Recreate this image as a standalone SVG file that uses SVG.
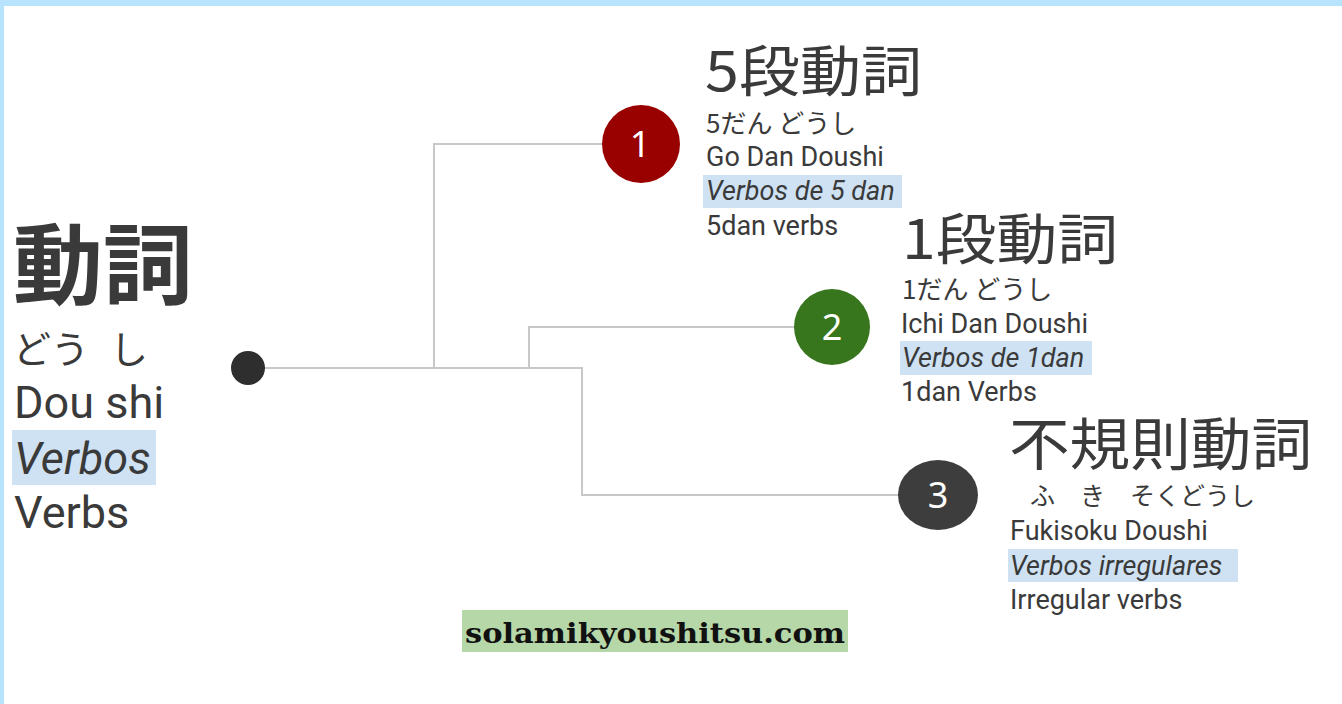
<svg xmlns="http://www.w3.org/2000/svg" width="1342" height="704" viewBox="0 0 1342 704">
<style>
.jp{font-family:"Noto Sans CJK JP","Noto Sans",sans-serif;fill:#3a3a3a}
.en{font-family:Roboto,"Liberation Sans",sans-serif;fill:#3a3a3a}
.it{font-style:italic}
.hl{fill:#cfe2f3}
.conn{fill:none;stroke:#c8c8c8;stroke-width:2}
.num{font-family:"Noto Sans","DejaVu Sans",sans-serif;fill:#ffffff;font-size:36px;text-anchor:middle}
.sm{font-size:27px}
</style>
<rect x="0" y="0" width="1342" height="704" fill="#ffffff"/>
<rect x="0" y="0" width="1342" height="6" fill="#b7e3fc"/>
<rect x="0" y="0" width="4" height="704" fill="#b7e3fc"/>

<g id="connectors">
<polyline class="conn" points="248,368 582,368 582,495 900,495"/>
<polyline class="conn" points="434,368 434,144 640,144"/>
<polyline class="conn" points="529,368 529,327 832,327"/>
</g>

<g id="root">
<text class="jp" x="13" y="297" font-size="88" font-weight="700" textLength="180" lengthAdjust="spacingAndGlyphs">動詞</text>
<text class="jp" x="13" y="363" font-size="38">どう<tspan x="110">し</tspan></text>
<text class="en" x="14" y="418" font-size="45">Dou shi</text>
<rect class="hl" x="12" y="430" width="144" height="55"/>
<text class="en it" x="14" y="474" font-size="45">Verbos</text>
<text class="en" x="14" y="528" font-size="45">Verbs</text>
<circle cx="248" cy="368" r="17" fill="#2e2e2e"/>
</g>

<g id="node1">
<circle cx="641" cy="144" r="39" fill="#990000"/>
<text class="num" x="640" y="157">1</text>
<text class="jp" x="705" y="91" font-size="55" textLength="217" lengthAdjust="spacingAndGlyphs">5段動詞</text>
<text class="jp" x="706" y="133" font-size="26">5だん どうし</text>
<text class="en sm" x="706" y="166">Go Dan Doushi</text>
<rect class="hl" x="703" y="175" width="199" height="33"/>
<text class="en it sm" x="706" y="200">Verbos de 5 dan</text>
<text class="en sm" x="706" y="235">5dan verbs</text>
</g>

<g id="node2">
<circle cx="832" cy="327" r="38" fill="#38761d"/>
<text class="num" x="832" y="340">2</text>
<text class="jp" x="902" y="259" font-size="55" textLength="216" lengthAdjust="spacingAndGlyphs">1段動詞</text>
<text class="jp" x="902" y="299" font-size="26">1だん どうし</text>
<text class="en sm" x="901" y="333">Ichi Dan Doushi</text>
<rect class="hl" x="900" y="341" width="192" height="34"/>
<text class="en it sm" x="902" y="367">Verbos de 1dan</text>
<text class="en sm" x="901" y="401">1dan Verbs</text>
</g>

<g id="node3">
<ellipse cx="938" cy="495" rx="40" ry="35" fill="#3d3d3d"/>
<text class="num" x="938" y="508">3</text>
<text class="jp" x="1009" y="465" font-size="57" textLength="303" lengthAdjust="spacingAndGlyphs">不規則動詞</text>
<text class="jp" x="1030" y="505" font-size="25">ふ　き　そくどうし</text>
<text class="en sm" x="1010" y="540">Fukisoku Doushi</text>
<rect class="hl" x="1008" y="549" width="230" height="33"/>
<text class="en it sm" x="1010" y="575">Verbos irregulares</text>
<text class="en sm" x="1010" y="609">Irregular verbs</text>
</g>

<g id="website">
<rect x="462" y="610" width="386" height="42" fill="#b6d7a8"/>
<text x="465" y="643" font-family="DejaVu Serif,serif" font-weight="700" font-size="28" fill="#111111" textLength="380" lengthAdjust="spacingAndGlyphs">solamikyoushitsu.com</text>
</g>
</svg>
